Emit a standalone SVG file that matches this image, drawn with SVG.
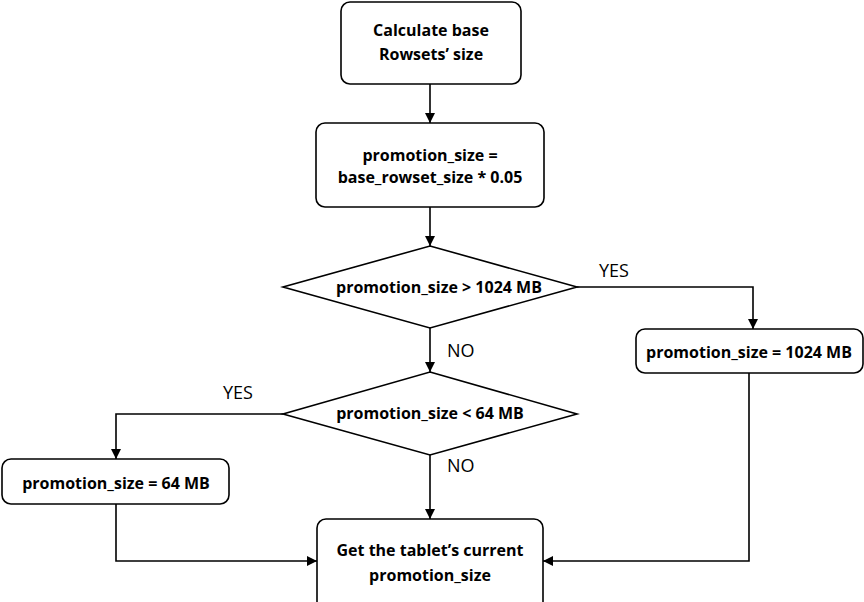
<svg xmlns="http://www.w3.org/2000/svg" width="864" height="602" viewBox="0 0 864 602">
<defs>
<style>
.box{fill:#fff;stroke:#000;stroke-width:1.6}
.t{font-family:"Open Sans","Noto Sans",sans-serif;font-weight:bold;font-size:16px;fill:#000;text-anchor:middle}
.l{font-family:"Open Sans","Noto Sans",sans-serif;font-size:18px;fill:#000}
.c{fill:none;stroke:#000;stroke-width:1.6;marker-end:url(#ah)}
</style>
<marker id="ah" viewBox="0 0 10 10" refX="10" refY="5" markerWidth="10" markerHeight="10" markerUnits="userSpaceOnUse" orient="auto">
<path d="M0,0 L10,5 L0,10 z" fill="#000"/>
</marker>
</defs>
<rect width="864" height="602" fill="#fff"/>
<g id="connectors">
<path class="c" d="M430,84 V123"/>
<path class="c" d="M430,207 V246"/>
<path class="c" d="M577,287 H753 V329"/>
<path class="c" d="M430,328 V372"/>
<path class="c" d="M283,414 H116 V459"/>
<path class="c" d="M430,455 V519"/>
<path class="c" d="M116,504 V561 H317"/>
<path class="c" d="M749,373 V561 H543"/>
<text class="l" x="599" y="277">YES</text>
<text class="l" x="447" y="357">NO</text>
<text class="l" x="223" y="399">YES</text>
<text class="l" x="447" y="472">NO</text>
</g>
<g id="n1">
<rect class="box" x="341" y="2" width="180" height="82" rx="9"/>
<text class="t" x="431" y="36">Calculate base</text>
<text class="t" x="431" y="60">Rowsets’ size</text>
</g>
<g id="n2">
<rect class="box" x="316" y="123" width="228" height="84" rx="9"/>
<text class="t" x="430" y="161">promotion_size =</text>
<text class="t" x="430" y="183">base_rowset_size * 0.05</text>
</g>
<g id="n3">
<polygon class="box" points="430,246 577,287 430,328 283,287"/>
<text class="t" x="439" y="293">promotion_size &gt; 1024 MB</text>
</g>
<g id="n4">
<rect class="box" x="636" y="329" width="227" height="44" rx="9"/>
<text class="t" x="749" y="358">promotion_size = 1024 MB</text>
</g>
<g id="n5">
<polygon class="box" points="430,372 577,414 430,455 283,414"/>
<text class="t" x="430" y="419">promotion_size &lt; 64 MB</text>
</g>
<g id="n6">
<rect class="box" x="2" y="459" width="227" height="45" rx="9"/>
<text class="t" x="116" y="489">promotion_size = 64 MB</text>
</g>
<g id="n7">
<rect class="box" x="317" y="519" width="226" height="100" rx="9"/>
<text class="t" x="430" y="556">Get the tablet’s current</text>
<text class="t" x="430" y="581">promotion_size</text>
</g>
</svg>
